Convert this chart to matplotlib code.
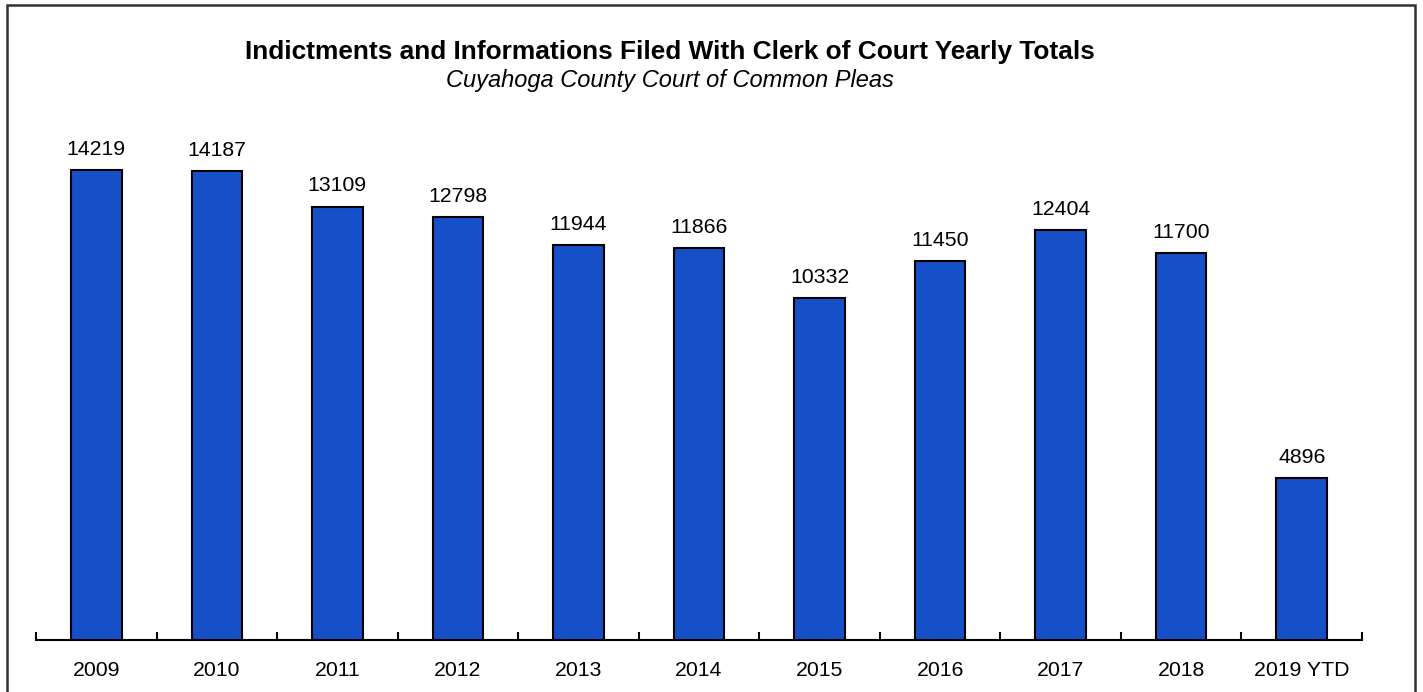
import numpy as np
import matplotlib
matplotlib.use('Agg')
import matplotlib.pyplot as plt
from matplotlib.patches import Rectangle

plt.rcParams['font.family'] = ['Liberation Sans', 'DejaVu Sans']

# data
years = ['2009', '2010', '2011', '2012', '2013', '2014', '2015', '2016', '2017', '2018', '2019 YTD']
totals = [14219, 14187, 13109, 12798, 11944, 11866, 10332, 11450, 12404, 11700, 4896]

bar_color = '#1550c8'

fig = plt.figure(figsize=(14.23, 6.92), dpi=100)
ax = fig.add_axes([36/1423, 52/692, 1326/1423, 529/692])

x = np.arange(len(years))
bars = ax.bar(x, totals, width=0.42, color=bar_color, edgecolor='black', linewidth=1.5)

for xi, v in zip(x, totals):
    ax.annotate(str(v), (xi, v), xytext=(0, 8), textcoords='offset points',
                ha='center', va='bottom', fontsize=15.3)

ax.set_xlim(-0.5, len(years) - 0.5)
ax.set_ylim(0, 16000)
ax.set_xticks(x)
ax.set_xticklabels(years, fontsize=15.3)
ax.set_xticks(np.arange(len(years) + 1) - 0.5, minor=True)
ax.tick_params(axis='x', which='major', length=0, pad=15)
ax.tick_params(axis='x', which='minor', direction='in', length=6, width=1.5)
ax.set_yticks([])
for s in ['top', 'left', 'right']:
    ax.spines[s].set_visible(False)
ax.spines['bottom'].set_linewidth(1.5)

fig.text(670/1423, 1 - 52/692, 'Indictments and Informations Filed With Clerk of Court Yearly Totals',
         ha='center', va='center', fontsize=18.9, fontweight='bold')
fig.text(670/1423, 1 - 80/692, 'Cuyahoga County Court of Common Pleas',
         ha='center', va='center', fontsize=17, style='italic')

# outer frame
fig.patches.append(Rectangle((7/1423, -0.05), 1408/1423, 1.05 - 5/692,
                             transform=fig.transFigure, fill=False,
                             edgecolor='#333333', linewidth=1.8))

fig.savefig('out.png', dpi=100)
